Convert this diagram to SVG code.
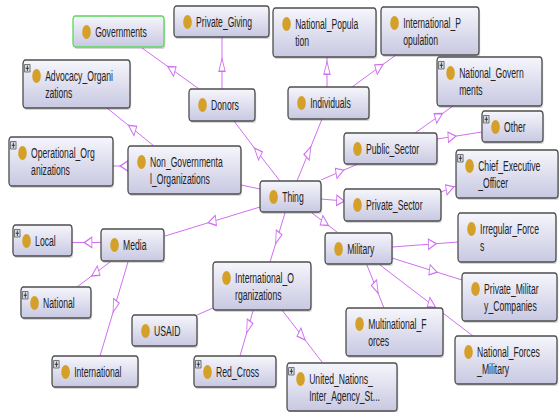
<svg xmlns="http://www.w3.org/2000/svg" width="559" height="412" viewBox="0 0 559 412">
<style>
.box{fill:url(#gr);stroke:#4d4d4d;stroke-width:1.3;vector-effect:non-scaling-stroke}
.gb{stroke:#5cd65c}
.sh{fill:#000;opacity:.16}
.dot{fill:#d4a02a}
.t{font-family:"Liberation Sans",Arial,sans-serif;font-size:14px;fill:#222}
.pl{fill:#d3dbe6;stroke:#5a5a5a;stroke-width:.8;vector-effect:non-scaling-stroke}
.pm{stroke:#222;stroke-width:1.2;fill:none}
.e{fill:none;stroke:#d070f0;stroke-width:1;vector-effect:non-scaling-stroke}
.m{marker-mid:url(#ah)}
</style>
<defs>
<linearGradient id="gr" x1="0" y1="0" x2="0" y2="1">
<stop offset="0" stop-color="#f6f6fc"/>
<stop offset="1" stop-color="#c8c8e2"/>
</linearGradient>
<marker id="ah" markerUnits="userSpaceOnUse" markerWidth="16" markerHeight="14" viewBox="-7 -6 14 12" refX="0" refY="0" orient="auto" overflow="visible">
<path d="M-5.5,-4.5 L5.5,0 L-5.5,4.5 Z" fill="#fff" stroke="#d070f0" stroke-width="1.2"/>
</marker>
</defs>
<rect width="559" height="412" fill="#fff"/>
<g transform="scale(0.615 1)">
<g id="connectors">
<path class="e m" d="M323.6,89 L278.5,69 L230.9,48"/>
<path class="e m" d="M361,89 L361,65 L361,37"/>
<path class="e m" d="M455.3,181 L418.6,152 L380.5,121"/>
<path class="e m" d="M482.9,181 L502,152 L523.6,119"/>
<path class="e m" d="M531.7,87 L531.7,68 L531.7,57"/>
<path class="e m" d="M572.4,87 L617,67 L643.9,55"/>
<path class="e m" d="M521.9,180 L552.6,171.8 L582.1,164"/>
<path class="e m" d="M674.8,133 L713.7,116 L736.6,106"/>
<path class="e m" d="M710.6,139 L735,136.7 L783.7,132"/>
<path class="e m" d="M521.9,199 L553.6,200.7 L559.3,201"/>
<path class="e m" d="M717.1,192 L731.7,188.4 L741.5,186"/>
<path class="e m" d="M507.3,213 L528.5,222.9 L548,232"/>
<path class="e m" d="M637.4,247 L702.9,244 L744.7,242"/>
<path class="e m" d="M637.4,258 L704.5,271 L751.2,280"/>
<path class="e m" d="M617.9,265 L702.6,304.8 L769.1,336"/>
<path class="e m" d="M596.7,265 L611.5,288 L624.4,308"/>
<path class="e m" d="M463.4,213 L451,238 L439,262"/>
<path class="e" d="M346.3,308 L320.3,315"/>
<path class="e m" d="M411.4,311 L403.9,327 L390.2,356"/>
<path class="e m" d="M458.5,310 L491.1,336 L523.6,362"/>
<path class="e" d="M422.8,189 L391.9,185"/>
<path class="e m" d="M250.4,146 L214.5,128.1 L174,108"/>
<path class="e m" d="M208.1,166 L201.6,166 L183.7,166"/>
<path class="e m" d="M422.8,207 L344.8,221.6 L268.3,236"/>
<path class="e m" d="M164.2,242.5 L143.1,242.5 L117.1,242.5"/>
<path class="e m" d="M178.9,262 L154.7,273.3 L125.2,287"/>
<path class="e m" d="M208.1,262 L186.6,306.5 L162.6,356"/>
</g>
<g id="n-Governments" transform="translate(118.7,16)"><rect class="sh" x="2" y="2" width="148" height="31" rx="4"/><rect class="box gb" width="148" height="31" rx="4"/><circle class="dot" cx="22" cy="16" r="7"/><text class="t" x="36" y="21">Governments</text></g>
<g id="n-Private_Giving" transform="translate(282.9,6)"><rect class="sh" x="2" y="2" width="154.5" height="31" rx="4"/><rect class="box" width="154.5" height="31" rx="4"/><circle class="dot" cx="22" cy="16" r="7"/><text class="t" x="36" y="21">Private_Giving</text></g>
<g id="n-Advocacy_Organizations" transform="translate(37.4,60)"><rect class="sh" x="2" y="2" width="174" height="48" rx="4"/><rect class="box" width="174" height="48" rx="4"/><rect class="pl" x="2.5" y="4.5" width="9" height="7.5"/><path class="pm" d="M4.5,8.25H9.5M7,5.5V11"/><circle class="dot" cx="22" cy="16" r="7"/><text class="t" x="36" y="21">Advocacy_Organi<tspan x="36" y="38">zations</tspan></text></g>
<g id="n-Donors" transform="translate(307.3,89)"><rect class="sh" x="2" y="2" width="107.3" height="32" rx="4"/><rect class="box" width="107.3" height="32" rx="4"/><circle class="dot" cx="22" cy="16" r="7"/><text class="t" x="36" y="21">Donors</text></g>
<g id="n-National_Population" transform="translate(443.9,8)"><rect class="sh" x="2" y="2" width="167.5" height="49" rx="4"/><rect class="box" width="167.5" height="49" rx="4"/><circle class="dot" cx="22" cy="16" r="7"/><text class="t" x="36" y="21">National_Popula<tspan x="36" y="38">tion</tspan></text></g>
<g id="n-International_Population" transform="translate(619.5,7)"><rect class="sh" x="2" y="2" width="159.3" height="48" rx="4"/><rect class="box" width="159.3" height="48" rx="4"/><circle class="dot" cx="22" cy="16" r="7"/><text class="t" x="36" y="21">International_P<tspan x="36" y="38">opulation</tspan></text></g>
<g id="n-National_Governments" transform="translate(710.6,57)"><rect class="sh" x="2" y="2" width="170.7" height="49" rx="4"/><rect class="box" width="170.7" height="49" rx="4"/><rect class="pl" x="2.5" y="4.5" width="9" height="7.5"/><path class="pm" d="M4.5,8.25H9.5M7,5.5V11"/><circle class="dot" cx="22" cy="16" r="7"/><text class="t" x="36" y="21">National_Govern<tspan x="36" y="38">ments</tspan></text></g>
<g id="n-Individuals" transform="translate(468.3,87)"><rect class="sh" x="2" y="2" width="131.7" height="32" rx="4"/><rect class="box" width="131.7" height="32" rx="4"/><circle class="dot" cx="22" cy="16" r="7"/><text class="t" x="36" y="21">Individuals</text></g>
<g id="n-Other" transform="translate(783.7,111)"><rect class="sh" x="2" y="2" width="99.2" height="31" rx="4"/><rect class="box" width="99.2" height="31" rx="4"/><rect class="pl" x="2.5" y="4.5" width="9" height="7.5"/><path class="pm" d="M4.5,8.25H9.5M7,5.5V11"/><circle class="dot" cx="22" cy="16" r="7"/><text class="t" x="36" y="21">Other</text></g>
<g id="n-Public_Sector" transform="translate(559.3,133)"><rect class="sh" x="2" y="2" width="151.2" height="31" rx="4"/><rect class="box" width="151.2" height="31" rx="4"/><circle class="dot" cx="22" cy="16" r="7"/><text class="t" x="36" y="21">Public_Sector</text></g>
<g id="n-Chief_Executive_Officer" transform="translate(741.5,150)"><rect class="sh" x="2" y="2" width="165.9" height="48" rx="4"/><rect class="box" width="165.9" height="48" rx="4"/><rect class="pl" x="2.5" y="4.5" width="9" height="7.5"/><path class="pm" d="M4.5,8.25H9.5M7,5.5V11"/><circle class="dot" cx="22" cy="16" r="7"/><text class="t" x="36" y="21">Chief_Executive<tspan x="36" y="38">_Officer</tspan></text></g>
<g id="n-Private_Sector" transform="translate(559.3,189)"><rect class="sh" x="2" y="2" width="157.7" height="32" rx="4"/><rect class="box" width="157.7" height="32" rx="4"/><circle class="dot" cx="22" cy="16" r="7"/><text class="t" x="36" y="21">Private_Sector</text></g>
<g id="n-Thing" transform="translate(422.8,181)"><rect class="sh" x="2" y="2" width="99.2" height="31" rx="4"/><rect class="box" width="99.2" height="31" rx="4"/><circle class="dot" cx="22" cy="16" r="7"/><text class="t" x="36" y="21">Thing</text></g>
<g id="n-Irregular_Forces" transform="translate(744.7,213)"><rect class="sh" x="2" y="2" width="159.3" height="49" rx="4"/><rect class="box" width="159.3" height="49" rx="4"/><circle class="dot" cx="22" cy="16" r="7"/><text class="t" x="36" y="21">Irregular_Force<tspan x="36" y="38">s</tspan></text></g>
<g id="n-Military" transform="translate(528.5,233)"><rect class="sh" x="2" y="2" width="108.9" height="31" rx="4"/><rect class="box" width="108.9" height="31" rx="4"/><circle class="dot" cx="22" cy="16" r="7"/><text class="t" x="36" y="21">Military</text></g>
<g id="n-Non_Governmental_Organizations" transform="translate(208.1,146)"><rect class="sh" x="2" y="2" width="183.7" height="48" rx="4"/><rect class="box" width="183.7" height="48" rx="4"/><circle class="dot" cx="22" cy="16" r="7"/><text class="t" x="36" y="21">Non_Governmenta<tspan x="36" y="38">l_Organizations</tspan></text></g>
<g id="n-Operational_Organizations" transform="translate(14.6,137)"><rect class="sh" x="2" y="2" width="169.1" height="49" rx="4"/><rect class="box" width="169.1" height="49" rx="4"/><rect class="pl" x="2.5" y="4.5" width="9" height="7.5"/><path class="pm" d="M4.5,8.25H9.5M7,5.5V11"/><circle class="dot" cx="22" cy="16" r="7"/><text class="t" x="36" y="21">Operational_Org<tspan x="36" y="38">anizations</tspan></text></g>
<g id="n-Local" transform="translate(21.1,225)"><rect class="sh" x="2" y="2" width="95.9" height="31" rx="4"/><rect class="box" width="95.9" height="31" rx="4"/><rect class="pl" x="2.5" y="4.5" width="9" height="7.5"/><path class="pm" d="M4.5,8.25H9.5M7,5.5V11"/><circle class="dot" cx="22" cy="16" r="7"/><text class="t" x="36" y="21">Local</text></g>
<g id="n-Media" transform="translate(164.2,229)"><rect class="sh" x="2" y="2" width="102.4" height="32" rx="4"/><rect class="box" width="102.4" height="32" rx="4"/><circle class="dot" cx="22" cy="16" r="7"/><text class="t" x="36" y="21">Media</text></g>
<g id="n-National" transform="translate(34.1,287)"><rect class="sh" x="2" y="2" width="113.8" height="31" rx="4"/><rect class="box" width="113.8" height="31" rx="4"/><rect class="pl" x="2.5" y="4.5" width="9" height="7.5"/><path class="pm" d="M4.5,8.25H9.5M7,5.5V11"/><circle class="dot" cx="22" cy="16" r="7"/><text class="t" x="36" y="21">National</text></g>
<g id="n-International" transform="translate(84.6,356)"><rect class="sh" x="2" y="2" width="139.8" height="31" rx="4"/><rect class="box" width="139.8" height="31" rx="4"/><rect class="pl" x="2.5" y="4.5" width="9" height="7.5"/><path class="pm" d="M4.5,8.25H9.5M7,5.5V11"/><circle class="dot" cx="22" cy="16" r="7"/><text class="t" x="36" y="21">International</text></g>
<g id="n-USAID" transform="translate(214.6,315)"><rect class="sh" x="2" y="2" width="105.7" height="31" rx="4"/><rect class="box" width="105.7" height="31" rx="4"/><circle class="dot" cx="22" cy="16" r="7"/><text class="t" x="36" y="21">USAID</text></g>
<g id="n-International_Organizations" transform="translate(346.3,262)"><rect class="sh" x="2" y="2" width="159.3" height="48" rx="4"/><rect class="box" width="159.3" height="48" rx="4"/><circle class="dot" cx="22" cy="16" r="7"/><text class="t" x="36" y="21">International_O<tspan x="36" y="38">rganizations</tspan></text></g>
<g id="n-Red_Cross" transform="translate(315.4,356)"><rect class="sh" x="2" y="2" width="133.3" height="31" rx="4"/><rect class="box" width="133.3" height="31" rx="4"/><rect class="pl" x="2.5" y="4.5" width="9" height="7.5"/><path class="pm" d="M4.5,8.25H9.5M7,5.5V11"/><circle class="dot" cx="22" cy="16" r="7"/><text class="t" x="36" y="21">Red_Cross</text></g>
<g id="n-United_Nations" transform="translate(466.7,363)"><rect class="sh" x="2" y="2" width="178.9" height="48" rx="4"/><rect class="box" width="178.9" height="48" rx="4"/><rect class="pl" x="2.5" y="4.5" width="9" height="7.5"/><path class="pm" d="M4.5,8.25H9.5M7,5.5V11"/><circle class="dot" cx="22" cy="16" r="7"/><text class="t" x="36" y="21">United_Nations_<tspan x="36" y="38">Inter_Agency_St...</tspan></text></g>
<g id="n-Multinational_Forces" transform="translate(562.6,308)"><rect class="sh" x="2" y="2" width="157.7" height="48" rx="4"/><rect class="box" width="157.7" height="48" rx="4"/><circle class="dot" cx="22" cy="16" r="7"/><text class="t" x="36" y="21">Multinational_F<tspan x="36" y="38">orces</tspan></text></g>
<g id="n-Private_Military_Companies" transform="translate(751.2,273)"><rect class="sh" x="2" y="2" width="154.5" height="48" rx="4"/><rect class="box" width="154.5" height="48" rx="4"/><circle class="dot" cx="22" cy="16" r="7"/><text class="t" x="36" y="21">Private_Militar<tspan x="36" y="38">y_Companies</tspan></text></g>
<g id="n-National_Forces_Military" transform="translate(739.8,336)"><rect class="sh" x="2" y="2" width="165.9" height="48" rx="4"/><rect class="box" width="165.9" height="48" rx="4"/><circle class="dot" cx="22" cy="16" r="7"/><text class="t" x="36" y="21">National_Forces<tspan x="36" y="38">_Military</tspan></text></g>
</g>
</svg>
